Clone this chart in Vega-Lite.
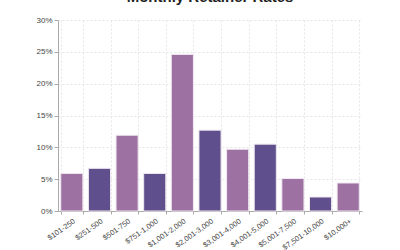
{
  "$schema": "https://vega.github.io/schema/vega-lite/v6.json",
  "width": 304,
  "height": 191,
  "autosize": {"type": "none"},
  "padding": {"left": 58, "top": 20, "right": 38, "bottom": 39},
  "background": "white",
  "title": {
    "text": "Monthly Retainer Rates",
    "anchor": "middle",
    "frame": "group",
    "offset": 11,
    "fontSize": 15,
    "fontWeight": "bold",
    "font": "Liberation Sans",
    "color": "#222222"
  },
  "data": {
    "values": [
      {"range": "$101-250", "pct": 0.059, "grp": "a"},
      {"range": "$251-500", "pct": 0.067, "grp": "b"},
      {"range": "$501-750", "pct": 0.119, "grp": "a"},
      {"range": "$751-1,000", "pct": 0.059, "grp": "b"},
      {"range": "$1,001-2,000", "pct": 0.246, "grp": "a"},
      {"range": "$2,001-3,000", "pct": 0.127, "grp": "b"},
      {"range": "$3,001-4,000", "pct": 0.097, "grp": "a"},
      {"range": "$4,001-5,000", "pct": 0.105, "grp": "b"},
      {"range": "$5,001-7,500", "pct": 0.051, "grp": "a"},
      {"range": "$7,501-10,000", "pct": 0.022, "grp": "b"},
      {"range": "$10,000+", "pct": 0.044, "grp": "a"}
    ]
  },
  "mark": {"type": "bar", "stroke": "#f0e8f0", "strokeWidth": 1},
  "encoding": {
    "x": {
      "field": "range",
      "type": "nominal",
      "sort": null,
      "scale": {"paddingInner": 0.2, "paddingOuter": 0.1},
      "axis": {
        "title": null,
        "labelAngle": -35,
        "labelAlign": "right",
        "labelBaseline": "top",
        "labelPadding": 3,
        "labelFontSize": 7.5,
        "labelColor": "#444444",
        "labelFont": "Liberation Sans",
        "tickBand": "extent",
        "tickSize": 3,
        "tickColor": "#aaaaaa",
        "domainColor": "#aaaaaa",
        "grid": true,
        "gridColor": "#e6e6e6",
        "gridDash": [2, 2]
      }
    },
    "y": {
      "field": "pct",
      "type": "quantitative",
      "scale": {"domain": [0, 0.3]},
      "axis": {
        "title": null,
        "format": ".0%",
        "values": [0, 0.05, 0.1, 0.15, 0.2, 0.25, 0.3],
        "labelFontSize": 8,
        "labelColor": "#444444",
        "labelFont": "Liberation Sans",
        "tickSize": 4,
        "tickColor": "#aaaaaa",
        "domainColor": "#aaaaaa",
        "gridColor": "#e6e6e6",
        "gridDash": [2, 2]
      }
    },
    "color": {
      "field": "grp",
      "type": "nominal",
      "scale": {"domain": ["a", "b"], "range": ["#9d72a3", "#5f4f8c"]},
      "legend": null
    }
  },
  "config": {"view": {"stroke": null}}
}
